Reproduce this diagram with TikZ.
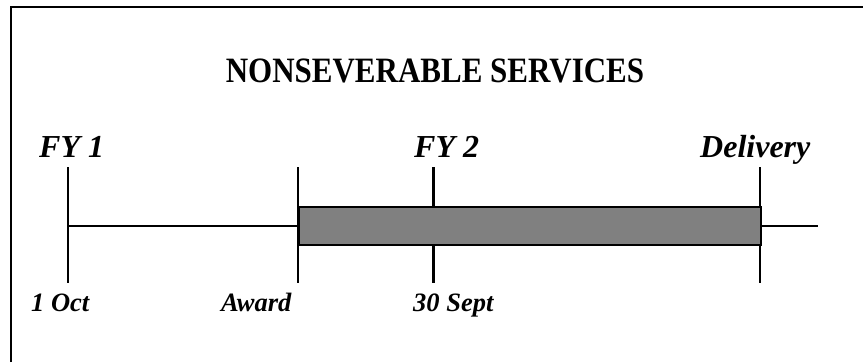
\documentclass[tikz,border=0pt]{standalone}
\usepackage{fontspec}
\setmainfont{Liberation Serif}
\begin{document}
\begin{tikzpicture}[x=1pt,y=-1pt,
  lbl/.style={inner sep=0pt,anchor=base west,font=\fontsize{32}{36}\selectfont\bfseries\itshape},
  small/.style={inner sep=0pt,anchor=base west,font=\fontsize{26.5}{30}\selectfont\bfseries\itshape},
  tick/.style={line width=1.6pt},
  thick tick/.style={line width=3pt}]
\useasboundingbox (0,0) rectangle (863,362);
% frame
\draw[line width=2pt] (10.5,362) -- (10.5,6.5) -- (863,6.5);
% title
\node[inner sep=0pt,anchor=base,font=\fontsize{31}{36}\selectfont\bfseries,yscale=1.15] (title) at (435,82) {NONSEVERABLE SERVICES};
% coordinates
\coordinate (fy1t) at (68,167);
\coordinate (fy1b) at (68,283);
\coordinate (awt) at (298,167);
\coordinate (awb) at (298,283);
\coordinate (fy2t) at (433,167);
\coordinate (fy2b) at (433,283);
\coordinate (delt) at (760,167);
\coordinate (delb) at (760,283);
\coordinate (fy1m) at (68,226);
\coordinate (awm) at (298,226);
\coordinate (delm) at (760,226);
\coordinate (endm) at (818,226);
% lines
\draw[tick] (fy1t) -- (fy1b);
\draw[tick] (awt) -- (awb);
\draw[thick tick] (fy2t) -- (fy2b);
\draw[tick] (delt) -- (delb);
\draw[tick] (fy1m) -- (awm);
\draw[tick] (delm) -- (endm);
% bar
\node[draw=black,line width=1.6pt,fill=black!50,inner sep=0pt,anchor=north west,minimum width=462pt,minimum height=38pt] (bar) at (298,206) {};
% labels
\node[lbl] (fy1) at (39,157.5) {FY 1};
\node[lbl] (fy2) at (414,157.5) {FY 2};
\node[lbl] (del) at (700,157.5) {Delivery};
\node[small] (oct) at (31,311.5) {1 Oct};
\node[small] (award) at (221,311.5) {Award};
\node[small] (sept) at (413,311.5) {30 Sept};
\end{tikzpicture}
\end{document}
